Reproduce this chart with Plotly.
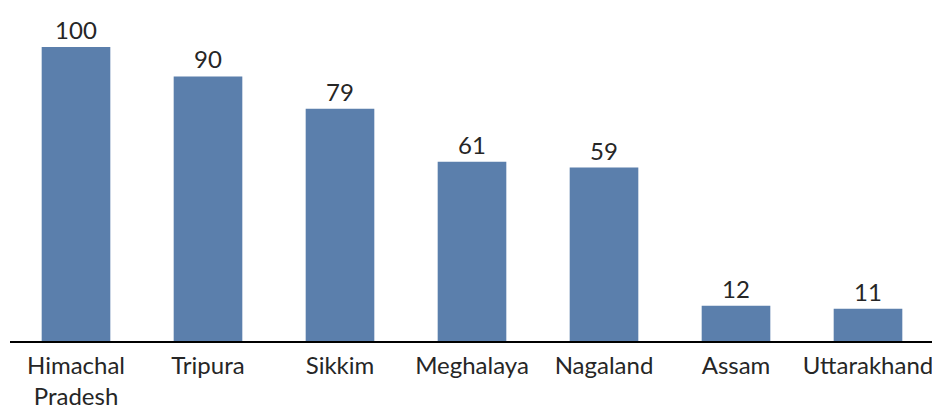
import plotly.graph_objects as go

states = ["Himachal<br>Pradesh", "Tripura", "Sikkim", "Meghalaya", "Nagaland", "Assam", "Uttarakhand"]
values = [100, 90, 79, 61, 59, 12, 11]

fig = go.Figure(go.Bar(
    x=states, y=values,
    marker=dict(color="#5b7fac", line=dict(width=0)),
    text=[str(v) for v in values], textposition="outside",
    textfont=dict(size=24, color="#262626", family="Lato"),
    cliponaxis=False,
))
fig.update_layout(
    width=932, height=401,
    margin=dict(l=2, r=6, t=0, b=68),
    paper_bgcolor="white", plot_bgcolor="white",
    bargap=0.48, showlegend=False,
    font=dict(family="Lato", size=24, color="#262626"),
)
fig.update_xaxes(showline=True, linecolor="black", linewidth=2, ticks="", showgrid=False,
                 automargin=False, ticklabelstandoff=2,
                 tickfont=dict(size=24, color="#262626"))
fig.update_yaxes(visible=False, range=[0, 113.3])
fig.write_html("out.html")
